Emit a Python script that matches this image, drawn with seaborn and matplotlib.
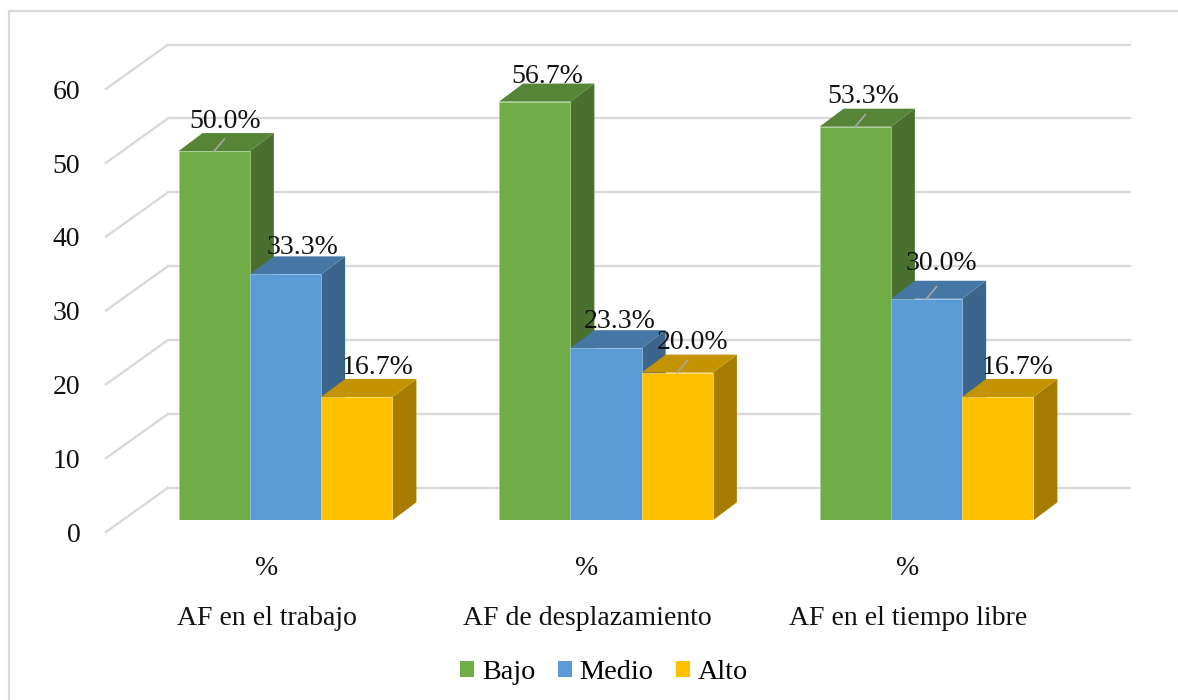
import matplotlib
matplotlib.use('Agg')
import matplotlib.pyplot as plt
import pandas as pd
import seaborn as sns
from matplotlib.colors import to_rgb
from matplotlib.lines import Line2D
from matplotlib.patches import Polygon
from matplotlib.transforms import Affine2D

categories = ['AF en el trabajo', 'AF de desplazamiento', 'AF en el tiempo libre']
levels = ['Bajo', 'Medio', 'Alto']
bajo = [50.0, 56.7, 53.3]
medio = [33.3, 23.3, 30.0]
alto = [16.7, 20.0, 16.7]
y_ticks = [0, 10, 20, 30, 40, 50, 60]

colors = ['#70AD47', '#5B9BD5', '#FFC000']
edges = ['#A9CE91', '#9DC3E6', '#FFD966']

# label offsets from the top of each bar, in pixels (series by series)
label_offsets = [[(11, 30), (13, 25), (8, 30)],
                 [(17, 27), (14, 27), (15, 35)],
                 [(21, 29), (15, 30), (20, 29)]]
leader_lines = {(0, 0), (0, 2), (1, 2), (2, 1)}

W, H = 1178, 700
X0, GROUP_PX = 285.5, 320.5   # first group centre, px between groups
BASE_Y, UNIT_PX = 520.3, 7.385  # pixel row of value 0, px per unit
AX_LEFT, AX_RIGHT = 106, 1130
DEPTH_X, DEPTH_Y = 24 / GROUP_PX, 18 / UNIT_PX
TEXT = '#111111'
FONT = 20


def x_at(px):
    return (px - X0) / GROUP_PX


def shade(color, f):
    return tuple(c * f for c in to_rgb(color))


df = pd.DataFrame({
    'categoria': categories * 3,
    'nivel': [lv for lv in levels for _ in categories],
    'valor': bajo + medio + alto,
})

plt.rcParams['font.family'] = ['Liberation Serif', 'DejaVu Serif']
fig = plt.figure(figsize=(W / 100, H / 100), dpi=100)
ax = fig.add_axes([AX_LEFT / W, 1 - BASE_Y / H, (AX_RIGHT - AX_LEFT) / W, 60 * UNIT_PX / H])

sns.barplot(data=df, x='categoria', y='valor', hue='nivel', order=categories,
            hue_order=levels, palette=colors, width=0.667, gap=0, saturation=1,
            dodge=True, ax=ax)

ax.set_xlim(x_at(AX_LEFT), x_at(AX_RIGHT))
ax.set_ylim(0, 60)
ax.set_xlabel('')
ax.set_ylabel('')
sns.despine(ax=ax, left=True, bottom=True)

# Walls and floor lines
wall = '#D9D9D9'
for v in y_ticks:
    back = v + 32.6 / UNIT_PX
    front = v - 11.7 / UNIT_PX
    ax.plot([x_at(168), x_at(AX_RIGHT)], [back, back], color=wall, lw=1.7, zorder=0.5, clip_on=False)
    ax.plot([x_at(AX_LEFT), x_at(168)], [front, back], color=wall, lw=1.7, zorder=0.5, clip_on=False)

# Front faces come from seaborn, depth faces are built on top of them
for s, container in enumerate(ax.containers):
    z = 3 + s
    for c, bar in enumerate(container):
        left, width, top = bar.get_x(), bar.get_width(), bar.get_height()
        right = left + width
        bar.set_zorder(z + 0.2)
        bar.set_edgecolor(edges[s])
        bar.set_linewidth(0.5)
        ax.add_patch(Polygon([(right, 0), (right + DEPTH_X, DEPTH_Y),
                              (right + DEPTH_X, top + DEPTH_Y), (right, top)],
                             fc=shade(colors[s], 0.65), ec='none', zorder=z, clip_on=False))
        ax.add_patch(Polygon([(left, top), (left + DEPTH_X, top + DEPTH_Y),
                              (right + DEPTH_X, top + DEPTH_Y), (right, top)],
                             fc=shade(colors[s], 0.77), ec='none', zorder=z + 0.1, clip_on=False))
        dx, dy = label_offsets[s][c]
        middle = left + width / 2
        ax.annotate(f'{top:.1f}%', xy=(middle, top), xytext=(dx, dy),
                    textcoords='offset pixels', ha='center', va='center',
                    fontsize=FONT, color=TEXT, zorder=10, annotation_clip=False)
        if (s, c) in leader_lines:
            ax.plot([middle, middle + 10 / GROUP_PX], [top, top + 12 / UNIT_PX],
                    color='#A6A6A6', lw=1.2, zorder=9, clip_on=False)

# Axis labels sit on the front edge of the floor, not under the bars
ax.set_yticks(y_ticks)
ax.tick_params(axis='y', length=0, pad=18.5, labelsize=FONT, labelcolor=TEXT)
ax.tick_params(axis='x', length=0, pad=62, labelsize=FONT, labelcolor=TEXT)
for lab in ax.get_yticklabels():
    lab.set_transform(lab.get_transform() + Affine2D().translate(0, -12))
for lab in ax.get_xticklabels():
    lab.set_transform(lab.get_transform() + Affine2D().translate(-18.5, 0))
for i in range(len(categories)):
    ax.annotate('%', xy=(i, 0), xytext=(-19, -48), textcoords='offset pixels',
                ha='center', va='center', fontsize=FONT, color=TEXT, annotation_clip=False)

handles, labels = ax.get_legend_handles_labels()
ax.legend(handles, labels, ncol=3, frameon=False, fontsize=FONT + 0.3, loc='center',
          bbox_to_anchor=(604 / W, 1 - 672.5 / H), bbox_transform=fig.transFigure,
          handlelength=0.5, handleheight=0.5, handletextpad=0.27, columnspacing=0.8)

# Only the top and left edges of the chart frame are in the picture
for xs, ys in [((9, W), (11, 11)), ((9, 9), (11, H))]:
    fig.add_artist(Line2D([x / W for x in xs], [1 - y / H for y in ys], color='#D9D9D9', lw=1.6))

fig.savefig('out.png', dpi=100)
